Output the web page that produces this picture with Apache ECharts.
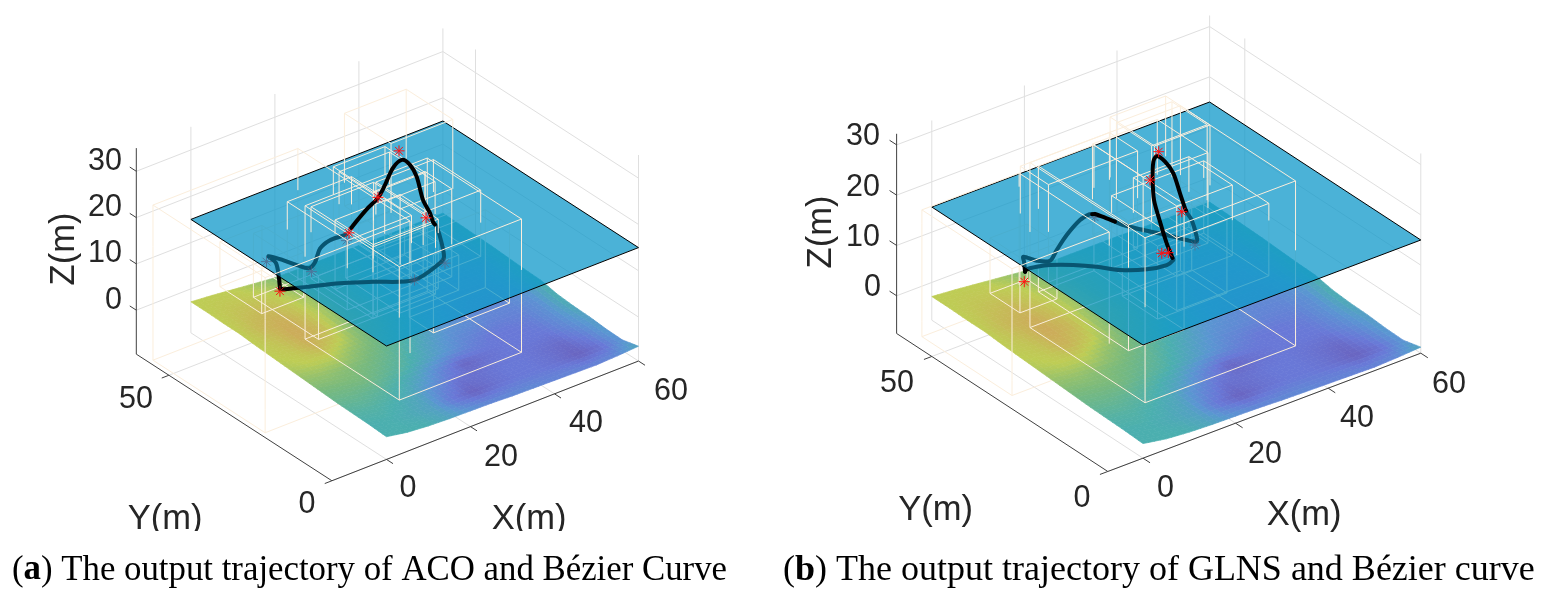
<!DOCTYPE html>
<html><head><meta charset="utf-8">
<style>html,body{margin:0;padding:0;background:#fff}#c{width:1544px;height:594px}</style>
<script src="https://cdn.jsdelivr.net/npm/echarts@6/dist/echarts.min.js"></script>
</head><body><div id="c"></div>
<script>
// ---------- values (metres) ----------
const xTicks = [0, 20, 40, 60];
const yTicks = [0, 50];
const zTicks = [0, 10, 20, 30];
const terrainXs = [0,5,10,15,20,25,30,35,40,45,50,55,60];
const terrainYs = [60,55,50,45,40,35,30,25,20,15,10,5,0];
const terrainZ = [
[-2.8,-3.2,-3.7,-4.2,-4.7,-4.8,-4.8,-4.8,-4.8,-4.9,-4.9,-4.9,-4.9],
[-2.8,-3.2,-3.6,-4.1,-4.5,-4.8,-4.9,-5,-5,-5.1,-5.1,-5.1,-5],
[-2.9,-3.3,-3.7,-4.1,-4.5,-4.8,-5,-5.1,-5.2,-5.2,-5.3,-5.2,-5.1],
[-2.9,-3.4,-3.8,-4.2,-4.6,-4.9,-5.1,-5.3,-5.4,-5.5,-5.5,-5.4,-5.2],
[-3.2,-3.7,-4.2,-4.6,-4.9,-5.1,-5.3,-5.4,-5.5,-5.6,-5.6,-5.5,-5.4],
[-3.4,-4,-4.4,-4.8,-5,-5.3,-5.5,-5.6,-5.8,-5.9,-5.9,-5.8,-5.6],
[-3.6,-4.2,-4.6,-5,-5.2,-5.4,-5.6,-5.8,-5.9,-6,-6.1,-6,-5.7],
[-3.8,-4.4,-5,-5.2,-5.5,-5.7,-5.9,-6,-6.2,-6.3,-6.4,-6.3,-6.4],
[-4,-4.6,-5.1,-5.4,-5.6,-5.9,-6,-6.2,-6.3,-6.4,-6.5,-6.6,-6.7],
[-4.2,-4.8,-5.3,-5.6,-5.8,-6,-6.2,-6.4,-6.5,-6.6,-6.7,-6.8,-6.8],
[-4.3,-4.9,-5.4,-5.7,-5.9,-6.1,-6.2,-6.4,-6.5,-6.7,-6.8,-6.9,-7.1],
[-4.4,-5,-5.6,-5.8,-6,-6.2,-6.3,-6.5,-6.6,-6.7,-6.9,-7,-7.2],
[-4.6,-5.4,-5.8,-6,-6.1,-6.2,-6.4,-6.5,-6.6,-6.7,-6.8,-6.6,-6.3]];
const terrainShade = [
[5,5,5,4.6,4.2,3.8,3.4,3.2,3,3,3,3,3],
[5,5.2,5.2,5,4.4,4,3.6,3.2,2.8,2.6,2.6,2.8,3],
[5,5.4,5.6,5.2,4.6,4,3.6,3,2.6,2.4,2.4,2.6,3],
[5,5.6,5.9,5.4,4.6,4,3.4,2.8,2.4,2.2,2.2,2.4,3],
[5,5.4,6,5.6,4.4,4,3.4,2.6,2.2,2,2,2.2,3],
[5,5.2,5.8,5.2,4.2,3.8,3.2,2.4,2,1.8,1.8,2.2,3],
[4.8,5,5,4.4,4,3.4,2.8,2.2,1.8,1.6,1.6,2,3],
[4.4,4.4,4.2,4,3.6,3,2.4,1.8,1.6,1.4,1.4,1.8,3],
[4,4,4,3.6,3.2,2.6,2,1.4,1,1,1.2,1.8,2.8],
[3.6,3.6,3.4,3,2.4,1.4,.5,.8,1,1,1,1.6,2.4],
[3.2,3.2,3,2.6,1.6,.8,.8,1,1,.8,.6,1.2,2.2],
[3,3,2.8,2.4,1,.4,.8,1,1,.8,.4,.8,2],
[3,3,3,2.6,2,1.6,1.6,1.6,1.4,1.4,1.4,1.6,2.6]];
const planeZ = 15;
// [x0,x1,y0,y1,z0,z1]
const boxesA = [
[-11.9,22.6,21.9,56.3,-9.5,24],[8.4,37.5,6.9,35.8,-2.8,26],[31.2,45.9,38.8,53.1,10,30],
[28.6,42.3,25.6,40.1,7.7,22],[12,27.3,27.5,45.9,6,21],[14.9,29.8,23.35,42.35,5,20.5],
[26.85,39.15,38.6,50.9,8,21],[25.5,37.5,33.4,47.4,9,22],[20.7,33,22.5,30.7,8,27],
[18.1,33.6,27.4,39.1,3,18],[29.1,47.2,23.1,30.5,-3,13.8],[8,18,48.6,61.4,-3,6.7],
[8.2,22.2,31.4,51.4,-0.8,13],[22.3,36.3,24.6,41.2,3,10.6]];
const boxesB = [
[-4.8,16.2,30.9,56.5,-7.5,17.7],[8.2,40.7,10.2,42.9,-4,28.8],[23.6,37.6,31,45.4,8,26],
[27.1,39.1,33.2,43.2,12,30],[26.35,38.35,25.07,37.4,8,22],[23.4,43.3,21.2,39.7,4,18.4],
[30.6,42.6,37,49.6,12,27],[10.75,30,41,49,5,24.4],[14.2,26.2,22.8,48.4,-1.5,23.5],
[8.85,16.85,46.6,55.1,-3,8],[23.2,38.2,26.4,36.4,0,14.5]];
// [x,y,z]
const pathA = [
[2.65,36.09,10],[4.91,39.31,10],[7.91,44.08,10],[8.4,47.02,10],[9.63,44.16,10],[10.57,41.07,10],
[11.66,38.8,10],[13.93,39.88,10],[17.76,43.29,10],[21.2,44.65,10],[25.03,44.53,10],
[18.64,33.38,20],[23.63,36.12,20],[27.42,37.93,20],[31.44,40.96,20],[36.53,45.07,20],[39.69,46.39,20],
[39.74,43.99,20],[38.04,39.76,20],[33.64,32.15,20],[31.63,27.41,20],[30.08,24.49,20],
[40.07,36.15,10],[37.1,30.88,10],[34.23,26.47,10],[32.26,25.16,10],[24.5,23.14,10],[18.03,27.37,10],
[12.82,30.79,10],[7.07,33.5,10],[3.28,35.36,10],[2.65,36.09,10]];
const pathB = [
[4.48,39.39,10],[6.43,42.26,10],[7.39,43.7,10],[8.38,41.21,10],[10.2,39.82,10],[13.35,42.07,10],
[17.86,45.16,10],[22.82,47.91,10],[25.28,48.51,10],
[15.6,34.15,20],[16.29,31.75,20],
[27.7,42.02,10],[29.39,38.57,10],[31.54,34.75,10],[33.23,31.29,10],[34.25,29.79,10],[35.29,31.16,10],
[38.1,36.28,10],[38.9,38.59,10],
[29.11,26.35,20],[31.56,31,20],[34.84,37.21,20],[36.13,41.26,20],[36.18,43.69,20],[34.53,42.48,20],
[30.61,37.5,20],[26.6,31.86,20],[22.88,25.26,20],[19.27,18.61,20],[17.3,14.59,20],
[27.22,27.19,10],[25.26,26.49,10],[21.63,27.38,10],[17.82,29.97,10],[15.33,33.31,10],[12.48,36.22,10],
[9.3,38.64,10],[7.12,39.56,10],[5.21,39.88,10],[4.48,39.39,10]];
const starsA = [
[41.32,49.4,20],[27.53,38.08,20],[29.96,26.48,20],[15.08,30.93,20],[2.07,35.35,10],
[23.54,42.6,10],[11.23,37.48,10],[6.84,45.63,10],[24.58,23.08,10],[33.01,24.58,10]];
const starsB = [
[37.36,44.68,20],[30.24,37.78,20],[27.94,25.75,20],[16.5,16.38,20],[17.52,15.86,20],
[25.4,47.13,10],[2.28,36.72,10],[33.32,29.06,10]];
const captionA = '({b|a}) The output trajectory of ACO and Bézier Curve';
const captionB = '({b|b}) The output trajectory of GLNS and Bézier curve';

// ---------- the two MATLAB-style orthographic views ----------
const views = [
 {o:[386.5,346],ex:[4.2,-1.64],ey:[-3.26,-2.11],kz:4.63,xmin:-13,zmin:-9.5,zmax:35,
  boxes:boxesA,path:pathA,stars:starsA,
  labels:[['0',408,489],['20',501,458],['40',586,424],['60',671,392],['50',136,400],['0',307,505],
          ['0',113.5,301],['10',105,254],['20',105,208],['30',105,161.5]],
  names:[['X(m)',529,519],['Y(m)',165,519]],
  zName:[64,249]},
 {o:[1143,345],ex:[4.63,-1.75],ey:[-3.52,-2.3],kz:5.03,xmin:-7.6,zmin:-7.5,zmax:32.2,
  boxes:boxesB,path:pathB,stars:starsB,
  labels:[['0',1165.5,489],['20',1265,455],['40',1357,419],['60',1449,384.5],['50',897,384],['0',1082,498.5],
          ['0',872.5,288],['10',863,237.5],['20',863,188],['30',863,137]],
  names:[['X(m)',1304,515],['Y(m)',935.5,510]],
  zName:[821,232]}
];
const project = (v,p)=>[v.o[0]+v.ex[0]*p[0]+v.ey[0]*p[1], v.o[1]+v.ex[1]*p[0]+v.ey[1]*p[1]-v.kz*(p[2]-planeZ)];

const surfaceLevel = -4.5;
const layerOf = z => z<surfaceLevel?0:(z<planeZ?1:2);
function split3(a,b){ // break a 3-D segment where it crosses the surface level and the plane
  const cuts=[0,1];
  [surfaceLevel,planeZ].forEach(l=>{ if((a[2]-l)*(b[2]-l)<0) cuts.push((l-a[2])/(b[2]-a[2])); });
  cuts.sort((m,n)=>m-n);
  const at=t=>[a[0]+(b[0]-a[0])*t,a[1]+(b[1]-a[1])*t,a[2]+(b[2]-a[2])*t];
  const out=[];
  for(let i=0;i<cuts.length-1;i++){const p=at(cuts[i]),q=at(cuts[i+1]);out.push([p,q,layerOf((p[2]+q[2])/2)]);}
  return out;
}
function boxEdges(b){
  const [x0,x1,y0,y1,z0,z1]=b, e=[];
  [z0,z1].forEach(z=>{e.push([[x0,y0,z],[x1,y0,z]],[[x1,y0,z],[x1,y1,z]],[[x1,y1,z],[x0,y1,z]],[[x0,y1,z],[x0,y0,z]]);});
  [[x0,y0],[x1,y0],[x1,y1],[x0,y1]].forEach(c=>e.push([[c[0],c[1],z0],[c[0],c[1],z1]]));
  return e;
}
const ramp=[[105,85,175],[105,120,215],[90,150,210],[75,175,175],[120,185,125],[190,205,85],[205,170,90]];
function rampColor(c){const i=Math.min(5,Math.max(0,Math.floor(c))),t=c-i,a=ramp[i],b=ramp[i+1];
  return 'rgb('+a.map((k,j)=>Math.round(k+(b[j]-k)*t)).join(',')+')';}

function line(api,pts,stroke,w,extra,smooth){
  return {type:'polyline',silent:true,shape:{points:pts.map(p=>api.coord(p)),smooth:smooth||0},
    style:Object.assign({stroke,lineWidth:w,fill:null},extra||{})};
}
function series(z,build){
  return {type:'custom',coordinateSystem:'cartesian2d',clip:false,silent:true,z,data:[[0,0]],
    renderItem:(params,api)=>({type:'group',children:build(api)})};
}
const gridC='#dfdfdf', axisC='#404040', boxC='#fbeedc', inkC='#262626';

function frame(v,api){
  const out=[],P=p=>project(v,p),z0=v.zmin,z1=v.zmax,x0=v.xmin;
  const seg=(a,b,c,w)=>out.push(line(api,[P(a),P(b)],c,w||1));
  zTicks.forEach(z=>{seg([x0,60,z],[60,60,z],gridC);seg([60,60,z],[60,0,z],gridC);});
  xTicks.forEach(x=>{seg([x,60,z0],[x,60,z1],gridC);seg([x,0,z0],[x,60,z0],gridC);});
  yTicks.forEach(y=>{seg([60,y,z0],[60,y,z1],gridC);seg([x0,y,z0],[60,y,z0],gridC);});
  seg([x0,0,z0],[60,0,z0],axisC);seg([x0,0,z0],[x0,60,z0],axisC);seg([x0,60,z0],[x0,60,z1],axisC);
  xTicks.forEach(x=>seg([x,0,z0],[x,-2,z0],axisC));
  yTicks.forEach(y=>seg([x0,y,z0],[x0-1.7,y,z0],axisC));
  zTicks.forEach(z=>seg([x0,60,z],[x0,62,z],axisC));
  return out;
}
function boxLayer(v,api,layer){
  const out=[];
  v.boxes.forEach(b=>boxEdges(b).forEach(e=>split3(e[0],e[1]).forEach(s=>{
    if(s[2]===layer) out.push(line(api,[project(v,s[0]),project(v,s[1])],boxC,1));
  })));
  return out;
}
function pathRuns(v,layer){
  const out=[];let run=null;
  for(let i=0;i<v.path.length-1;i++){
    split3(v.path[i],v.path[i+1]).forEach(s=>{
      if(s[2]===layer){ if(!run) run=[project(v,s[0])]; run.push(project(v,s[1])); }
      else if(run){ out.push(run); run=null; }
    });
  }
  if(run) out.push(run);
  return out;
}
const pathStyle={lineJoin:'round',lineCap:'round'};
function pathLayer(v,api,layer,color){
  return pathRuns(v,layer).map(r=>line(api,r,color||'#000',4,pathStyle,0.3));
}
function starLayer(v,api,layer){
  const out=[],R=5.5,D=3.9;
  v.stars.filter(s=>layerOf(s[2])===layer).forEach(s=>{
    const c=project(v,s);
    [[R,0],[0,R],[D,D],[D,-D]].forEach(d=>out.push(line(api,[[c[0]-d[0],c[1]-d[1]],[c[0]+d[0],c[1]+d[1]]],'#ff1010',1)));
  });
  return out;
}
function surface(v,api){
  const out=[],n=4,ny=terrainYs.length,nx=terrainXs.length;
  const bil=(g,r,c,s,t)=>g[r][c]*(1-s)*(1-t)+g[r][c+1]*s*(1-t)+g[r+1][c]*(1-s)*t+g[r+1][c+1]*s*t;
  for(let r=0;r<ny-1;r++)for(let c=0;c<nx-1;c++)for(let i=0;i<n;i++)for(let j=0;j<n;j++){
    const pt=(si,tj)=>{const s=si/n,t=tj/n;
      return api.coord(project(v,[terrainXs[c]+(terrainXs[c+1]-terrainXs[c])*s,terrainYs[r]+(terrainYs[r+1]-terrainYs[r])*t,bil(terrainZ,r,c,s,t)]));};
    const col=rampColor(bil(terrainShade,r,c,(i+.5)/n,(j+.5)/n));
    out.push({type:'polygon',silent:true,shape:{points:[pt(i,j),pt(i+1,j),pt(i+1,j+1),pt(i,j+1)]},
      style:{fill:col,stroke:col,lineWidth:.7}});
  }
  return out;
}
function plane(v,api){
  const pts=[[0,0],[60,0],[60,60],[0,60]].map(p=>api.coord(project(v,[p[0],p[1],planeZ])));
  return [{type:'polygon',silent:true,shape:{points:pts},style:{fill:'rgba(15,152,202,0.75)',stroke:'#000',lineWidth:1}}];
}
function textEl(api,t,x,y,size,rot){
  const c=api.coord([x,y]);
  return {type:'text',silent:true,x:c[0],y:c[1],rotation:rot||0,
    style:{text:t,fill:inkC,font:size+'px "Liberation Sans"',textAlign:'center',textVerticalAlign:'middle'}};
}
function labels(v,api){
  const out=v.labels.map(l=>textEl(api,l[0],l[1],l[2],30.5));
  v.names.forEach(l=>out.push(textEl(api,l[0],l[1],l[2],34.5)));
  out.push(textEl(api,'Z(m)',v.zName[0],v.zName[1],34.5,Math.PI/2));
  return out;
}
const allSeries=[];
views.forEach(v=>{
  allSeries.push(series(1,api=>frame(v,api)));
  allSeries.push(series(2,api=>boxLayer(v,api,0)));
  allSeries.push(series(3,api=>surface(v,api)));
  allSeries.push(series(4,api=>boxLayer(v,api,1)));
  allSeries.push(series(5,api=>pathLayer(v,api,1)));
  allSeries.push(series(6,api=>starLayer(v,api,1)));
  allSeries.push(series(7,api=>plane(v,api)));
  allSeries.push(series(8,api=>pathLayer(v,api,1,'rgba(0,0,0,0.25)')));
  allSeries.push(series(9,api=>boxLayer(v,api,2)));
  allSeries.push(series(10,api=>pathLayer(v,api,2)));
  allSeries.push(series(11,api=>starLayer(v,api,2)));
  allSeries.push(series(12,api=>labels(v,api)));
});
const capStyle=s=>({fontFamily:'"Liberation Serif"',fontSize:s,fontWeight:'normal',color:'#000',
  rich:{b:{fontFamily:'"Liberation Serif"',fontSize:s,fontWeight:'bold',color:'#000'}}});
const chart=echarts.init(document.getElementById('c'),null,{renderer:'canvas'});
chart.setOption({
  animation:false,backgroundColor:'#fff',
  grid:{left:0,right:0,top:0,bottom:0},
  xAxis:{type:'value',min:0,max:1544,show:false},
  yAxis:{type:'value',min:0,max:594,inverse:true,show:false},
  title:[{text:captionA,left:12,top:553,padding:0,textStyle:capStyle(34.8)},
         {text:captionB,left:783,top:553,padding:0,textStyle:capStyle(36)}],
  graphic:[{type:'rect',z:100,silent:true,shape:{x:110,y:531,width:480,height:14},style:{fill:'#fff'}}],
  series:allSeries
});
</script></body></html>
